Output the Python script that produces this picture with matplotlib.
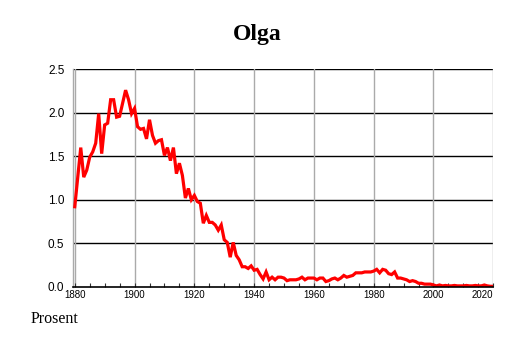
import matplotlib
matplotlib.use("Agg")
import matplotlib.pyplot as plt
import numpy as np

years = list(range(1880, 2021))
values = [
    0.92, 1.26, 1.60, 1.26, 1.34, 1.49, 1.55, 1.65, 1.99, 1.53,  # 1880-1889
    1.86, 1.88, 2.15, 2.15, 1.95, 1.96, 2.11, 2.26, 2.15, 1.99,  # 1890-1899
    2.05, 1.84, 1.81, 1.82, 1.70, 1.92, 1.74, 1.65, 1.68, 1.69,  # 1900-1909
    1.51, 1.60, 1.45, 1.60, 1.30, 1.42, 1.28, 1.02, 1.13, 1.00,  # 1910-1919
    1.05, 0.98, 0.96, 0.73, 0.82, 0.74, 0.74, 0.71, 0.65, 0.71,  # 1920-1929
    0.54, 0.51, 0.34, 0.51, 0.36, 0.31, 0.23, 0.23, 0.21, 0.24,  # 1930-1939
    0.19, 0.20, 0.14, 0.09, 0.17, 0.08, 0.11, 0.08, 0.11, 0.11,  # 1940-1949
    0.10, 0.07, 0.08, 0.08, 0.08, 0.09, 0.11, 0.08, 0.10, 0.10,  # 1950-1959
    0.10, 0.08, 0.10, 0.10, 0.06, 0.07, 0.09, 0.10, 0.08, 0.10,  # 1960-1969
    0.13, 0.11, 0.12, 0.13, 0.16, 0.16, 0.16, 0.17, 0.17, 0.17,  # 1970-1979
    0.18, 0.20, 0.16, 0.20, 0.19, 0.15, 0.14, 0.17, 0.10, 0.10,  # 1980-1989
    0.09, 0.08, 0.06, 0.07, 0.06, 0.04, 0.04, 0.03, 0.03, 0.03,  # 1990-1999
    0.02, 0.01, 0.02, 0.01, 0.015, 0.01, 0.01, 0.015, 0.01, 0.01,  # 2000-2009
    0.01, 0.015, 0.01, 0.01, 0.015, 0.01, 0.01, 0.02, 0.01, 0.005,  # 2010-2019
    0.005,  # 2020
]
x_ticks = [1880, 1900, 1920, 1940, 1960, 1980, 2000, 2020]
y_ticks = [0.0, 0.5, 1.0, 1.5, 2.0, 2.5]
title = "Olga"
ylabel = "Prosent"

fig = plt.figure(figsize=(5.14, 3.43), dpi=100)
ax = fig.add_axes([0.1414, 0.164, 0.8183, 0.634])

ax.set_xlim(1879.3, 2020)
ax.set_ylim(0, 2.5)

for yt in y_ticks[1:]:
    ax.axhline(yt, color="black", lw=1.0, zorder=1)
for xt in x_ticks:
    ax.axvline(xt, color="#aaaaaa", lw=1.0, zorder=1)

ax.plot(years, values, color="#ff0000", lw=2.3, zorder=3, solid_joinstyle="miter")

for s in ["top", "right"]:
    ax.spines[s].set_visible(False)
ax.spines["left"].set_color("#aaaaaa")
ax.spines["left"].set_linewidth(1.0)
ax.spines["bottom"].set_color("black")
ax.spines["bottom"].set_linewidth(1.2)
ax.spines["bottom"].set_zorder(4)

ax.set_xticks(x_ticks)
ax.set_xticklabels([str(t) for t in x_ticks], fontsize=7, family="Liberation Sans")
ax.set_xticks(list(range(1885, 2020, 5)), minor=True)
ax.tick_params(axis="x", which="both", direction="in", length=3, width=0.8, pad=2, color="#333333")
lbls = ax.get_xticklabels()
lbls[-1].set_horizontalalignment("right")
lbls[-1].set_x(2020)

ax.set_yticks(y_ticks)
ax.set_yticklabels([f"{t:.1f}" for t in y_ticks], fontsize=8.5, family="Liberation Sans")
ax.tick_params(axis="y", length=0, pad=6)

fig.text(0.5, 0.898, title, ha="center", va="center", fontsize=17,
         fontweight="bold", family="Liberation Serif")
fig.text(0.06, 0.071, ylabel, ha="left", va="center", fontsize=11.5,
         family="Liberation Serif")

fig.savefig("out.png", dpi=100)
